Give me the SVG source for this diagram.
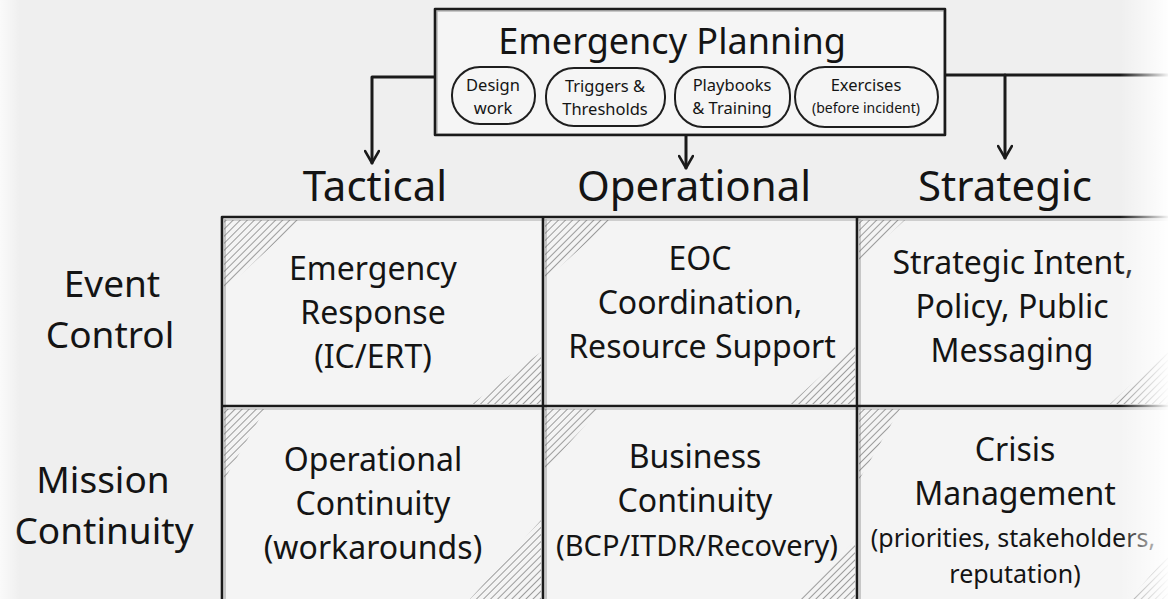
<svg xmlns="http://www.w3.org/2000/svg" width="1168" height="599" viewBox="0 0 1168 599">
  <defs>
    <style>
      .t { font-family: "Noto Sans", "Open Sans", sans-serif; fill: #141414; text-anchor: middle; }
      .title { font-size: 36px; }
      .pill-t { font-size: 16.5px; }
      .pill-s { font-size: 14px; }
      .col { font-size: 42px; }
      .row { font-size: 37px; }
      .cell { font-size: 32px; }
      .cell-m { font-size: 29px; }
      .cell-s { font-size: 25px; }
      .ink { fill: none; stroke: #1a1a1a; stroke-width: 2.6; stroke-linecap: round; stroke-linejoin: round; }
      .ghost { fill: none; stroke: #7a7a7a; stroke-width: 1.2; opacity: 0.6; }
      .pill { fill: none; stroke: #1e1e1e; stroke-width: 2; }
      .cellbg { fill: #f4f4f4; }
      .hatch { fill: url(#hatch); }
      .conn { fill: none; stroke: #1a1a1a; stroke-width: 3; stroke-linecap: round; stroke-linejoin: round; }
    </style>
    <!-- diagonal hatching used in the cell corners -->
    <pattern id="hatch" patternUnits="userSpaceOnUse" width="5" height="5" patternTransform="rotate(45)">
      <line x1="0" y1="0" x2="0" y2="5" stroke="#6c6c6c" stroke-width="1.3"/>
    </pattern>
    <marker id="arrow" viewBox="0 0 16 16" refX="14" refY="8" markerWidth="16" markerHeight="16" markerUnits="userSpaceOnUse" orient="auto">
      <path d="M2,1 L14,8 L2,15" fill="none" stroke="#1a1a1a" stroke-width="2.6" stroke-linecap="round" stroke-linejoin="round"/>
    </marker>
    <linearGradient id="fadeR" x1="0" y1="0" x2="1" y2="0">
      <stop offset="0" stop-color="#ffffff" stop-opacity="0"/>
      <stop offset="1" stop-color="#ffffff" stop-opacity="0.95"/>
    </linearGradient>
    <linearGradient id="fadeL" x1="0" y1="0" x2="1" y2="0">
      <stop offset="0" stop-color="#ffffff" stop-opacity="0.7"/>
      <stop offset="1" stop-color="#ffffff" stop-opacity="0"/>
    </linearGradient>
  </defs>

  <!-- paper -->
  <rect x="0" y="0" width="1168" height="599" fill="#efefef"/>

  <!-- connectors from the planning box to the three levels -->
  <g id="connectors">
    <path class="conn" d="M435,77 H372 V163" marker-end="url(#arrow)"/>
    <path class="conn" d="M686,135 V168" marker-end="url(#arrow)"/>
    <path class="conn" d="M945,75 H1168"/>
    <path class="conn" d="M1005,75 V158" marker-end="url(#arrow)"/>
  </g>

  <!-- planning box -->
  <g id="emergency-planning">
    <rect x="435" y="9" width="510" height="126" fill="#f5f5f5"/>
    <rect class="ghost" x="437" y="11" width="507" height="123"/>
    <rect class="ink" x="435" y="9" width="510" height="126"/>
    <text class="t title" x="672" y="54">Emergency Planning</text>
    <g id="pill-design">
      <rect class="pill" x="452" y="67" width="83" height="57" rx="28"/>
      <text class="t pill-t" x="493" y="91">Design</text>
      <text class="t pill-t" x="493" y="114">work</text>
    </g>
    <g id="pill-triggers">
      <rect class="pill" x="546" y="68" width="119" height="58" rx="28"/>
      <text class="t pill-t" x="605" y="92">Triggers &amp;</text>
      <text class="t pill-t" x="605" y="115">Thresholds</text>
    </g>
    <g id="pill-playbooks">
      <rect class="pill" x="675" y="67" width="115" height="60" rx="28"/>
      <text class="t pill-t" x="732" y="91">Playbooks</text>
      <text class="t pill-t" x="732" y="114">&amp; Training</text>
    </g>
    <g id="pill-exercises">
      <rect class="pill" x="795" y="67" width="143" height="60" rx="30"/>
      <text class="t pill-t" x="866" y="91">Exercises</text>
      <text class="t pill-s" x="866" y="113">(before incident)</text>
    </g>
  </g>

  <!-- column headings -->
  <g id="col-tactical"><text class="t col" x="375" y="201">Tactical</text></g>
  <g id="col-operational"><text class="t col" x="694" y="201">Operational</text></g>
  <g id="col-strategic"><text class="t col" x="1005" y="201">Strategic</text></g>

  <!-- row headings -->
  <g id="row-event-control">
    <text class="t row" x="112" y="297">Event</text>
    <text class="t row" x="110" y="348">Control</text>
  </g>
  <g id="row-mission-continuity">
    <text class="t row" x="103" y="493">Mission</text>
    <text class="t row" x="104" y="544">Continuity</text>
  </g>

  <!-- cell backgrounds and corner hatching -->
  <g id="cell-fills">
    <rect class="cellbg" x="222" y="217" width="946" height="382"/>
    <polygon class="hatch" points="224,220 300,220 224,290"/>
    <polygon class="hatch" points="541,352 541,404 472,404"/>
    <polygon class="hatch" points="545,220 612,220 545,280"/>
    <polygon class="hatch" points="855,345 855,404 790,404"/>
    <polygon class="hatch" points="859,220 905,220 859,262"/>
    <polygon class="hatch" points="1168,350 1168,404 1110,404"/>
    <polygon class="hatch" points="224,409 265,409 224,480"/>
    <polygon class="hatch" points="545,409 600,409 545,470"/>
    <polygon class="hatch" points="859,409 900,409 859,480"/>
    <polygon class="hatch" points="541,520 541,599 470,599"/>
    <polygon class="hatch" points="855,540 855,599 800,599"/>
    <polygon class="hatch" points="1168,555 1168,599 1130,599"/>
  </g>

  <!-- grid lines -->
  <g id="grid">
    <path class="ghost" d="M224,220 H1168 M224,409 H1168 M225,219 V599 M546,219 V599 M860,219 V599"/>
    <path class="ink" d="M222,217 H1168 M222,406 H1168 M222,217 V599 M543,217 V599 M857,217 V599"/>
  </g>

  <!-- cells -->
  <g id="cell-emergency-response">
    <text class="t cell" x="373" y="280">Emergency</text>
    <text class="t cell" x="373" y="324">Response</text>
    <text class="t cell" x="373" y="368">(IC/ERT)</text>
  </g>
  <g id="cell-eoc">
    <text class="t cell" x="700" y="270">EOC</text>
    <text class="t cell" x="700" y="314">Coordination,</text>
    <text class="t cell" x="702" y="358">Resource Support</text>
  </g>
  <g id="cell-strategic-intent">
    <text class="t cell" x="1013" y="274">Strategic Intent,</text>
    <text class="t cell" x="1012" y="318">Policy, Public</text>
    <text class="t cell" x="1012" y="362">Messaging</text>
  </g>
  <g id="cell-operational-continuity">
    <text class="t cell" x="373" y="471">Operational</text>
    <text class="t cell" x="373" y="515">Continuity</text>
    <text class="t cell" x="373" y="559">(workarounds)</text>
  </g>
  <g id="cell-business-continuity">
    <text class="t cell" x="695" y="468">Business</text>
    <text class="t cell" x="695" y="512">Continuity</text>
    <text class="t cell-m" x="697" y="556">(BCP/ITDR/Recovery)</text>
  </g>
  <g id="cell-crisis-management">
    <text class="t cell" x="1015" y="461">Crisis</text>
    <text class="t cell" x="1015" y="505">Management</text>
    <text class="t cell-s" x="1013" y="547">(priorities, stakeholders,</text>
    <text class="t cell-s" x="1015" y="583">reputation)</text>
  </g>

  <!-- paper edge fade -->
  <rect x="1120" y="0" width="48" height="599" fill="url(#fadeR)"/>
  <rect x="0" y="0" width="20" height="599" fill="url(#fadeL)"/>
</svg>
